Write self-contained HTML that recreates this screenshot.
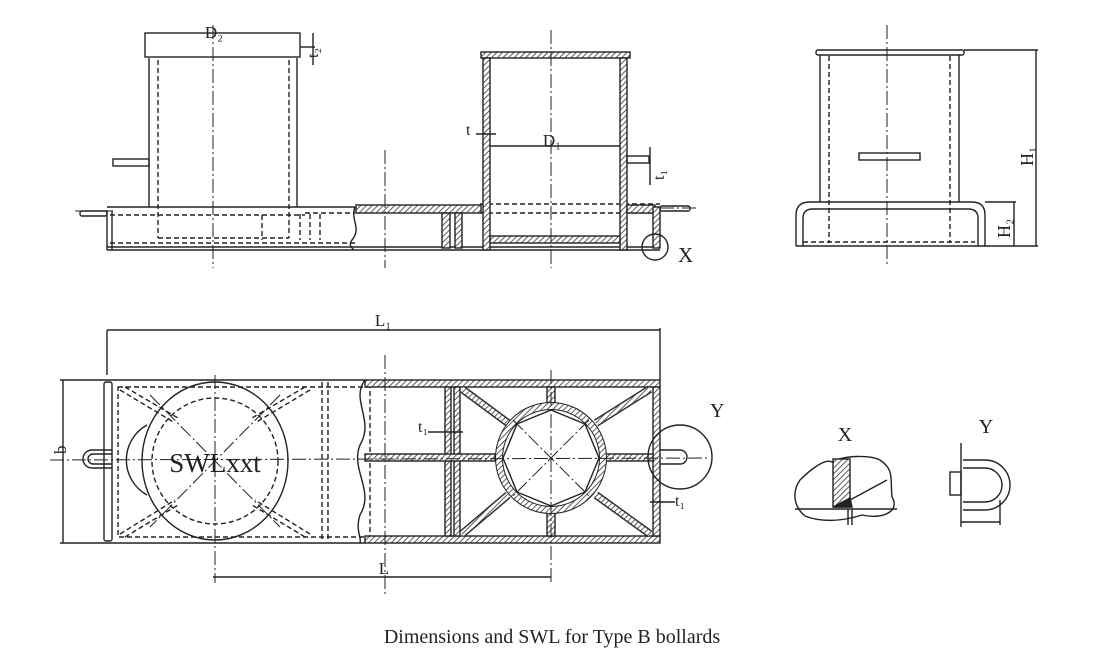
<!DOCTYPE html>
<html><head><meta charset="utf-8"><style>
html,body{margin:0;padding:0;background:#fff;}
svg{display:block;}
text{font-family:"Liberation Serif",serif;fill:#222;}
</style></head><body>
<svg width="1105" height="667" viewBox="0 0 1105 667" xmlns="http://www.w3.org/2000/svg">
<defs>
<pattern id="h" width="4" height="4" patternUnits="userSpaceOnUse" patternTransform="rotate(45)">
<rect width="4" height="4" fill="#fff"/><line x1="0" y1="0" x2="0" y2="4" stroke="#333" stroke-width="1.6"/>
</pattern>
</defs>
<g fill="none" stroke="#222" stroke-width="1.4">
<!-- TOP LEFT ELEVATION -->
<rect x="145" y="33" width="155" height="24"/>
<line x1="149" y1="58" x2="149" y2="207"/><line x1="297" y1="58" x2="297" y2="207"/>
<g stroke-dasharray="5,3">
<line x1="158" y1="60" x2="158" y2="238"/><line x1="289" y1="60" x2="289" y2="238"/>
<line x1="158" y1="238" x2="289" y2="238"/>
<line x1="110" y1="215" x2="305" y2="215"/><line x1="305" y1="213" x2="355" y2="213"/>
<line x1="110" y1="243" x2="355" y2="243"/>
<line x1="262" y1="215" x2="262" y2="240"/><line x1="300" y1="214" x2="300" y2="240"/>
<line x1="310" y1="214" x2="310" y2="240"/><line x1="320" y1="214" x2="320" y2="240"/>
<line x1="480" y1="204" x2="660" y2="204"/><line x1="480" y1="213" x2="660" y2="213"/>
</g>
<rect x="113" y="159" width="36" height="7"/>
<line x1="107" y1="207" x2="355" y2="207"/>
<line x1="107" y1="250" x2="660" y2="250"/><line x1="107" y1="247" x2="660" y2="247"/>
<line x1="107" y1="210" x2="107" y2="250"/><line x1="112" y1="210" x2="112" y2="250"/>
<path d="M355 207 C350 220,362 228,352 240 C348 245,352 248,354 250"/>
<rect x="356" y="205" width="125" height="8" fill="url(#h)"/>
<rect x="442" y="213" width="8" height="35" fill="url(#h)"/>
<rect x="455" y="213" width="7" height="35" fill="url(#h)"/>
<rect x="481" y="52" width="149" height="6" fill="url(#h)"/>
<rect x="483" y="58" width="7" height="192" fill="url(#h)"/>
<rect x="620" y="58" width="7" height="192" fill="url(#h)"/>
<rect x="490" y="236" width="130" height="7" fill="url(#h)"/>
<rect x="627" y="205" width="28" height="8" fill="url(#h)"/>
<rect x="653" y="207" width="7" height="41" fill="url(#h)"/>
<rect x="80" y="211" width="27" height="5" rx="2"/>
<rect x="660" y="206" width="30" height="5" rx="2"/>
<rect x="627" y="156" width="22" height="7"/>
<line x1="490" y1="146" x2="620" y2="146"/>
<circle cx="655" cy="247" r="13"/>
<g stroke-dasharray="14,3,2,3" stroke-width="1">
<line x1="213" y1="25" x2="213" y2="268"/>
<line x1="385" y1="150" x2="385" y2="268"/>
<line x1="551" y1="30" x2="551" y2="268"/>
<line x1="887" y1="25" x2="887" y2="265"/>
<line x1="75" y1="211" x2="112" y2="211"/>
<line x1="660" y1="208" x2="697" y2="208"/>
</g>
<line x1="300" y1="47" x2="315" y2="47"/><line x1="313" y1="33" x2="313" y2="65"/>
<line x1="476" y1="134" x2="496" y2="134"/>
<line x1="650" y1="147" x2="650" y2="185"/>
<!-- RIGHT ELEVATION -->
<rect x="816" y="50" width="148" height="5" rx="2"/>
<line x1="820" y1="55" x2="820" y2="202"/><line x1="959" y1="55" x2="959" y2="202"/>
<g stroke-dasharray="5,3"><line x1="829" y1="56" x2="829" y2="243"/><line x1="950" y1="56" x2="950" y2="243"/><line x1="803" y1="242" x2="975" y2="242"/></g>
<rect x="859" y="153" width="61" height="7"/>
<path d="M796 246 V215 Q796 202 810 202 H972 Q985 202 985 215 V246"/>
<path d="M803 246 V218 Q803 209 813 209 H968 Q978 209 978 218 V246"/>
<line x1="796" y1="246" x2="1038" y2="246"/>
<line x1="964" y1="50" x2="1038" y2="50"/>
<line x1="1036" y1="50" x2="1036" y2="246"/>
<line x1="985" y1="202" x2="1016" y2="202"/>
<line x1="1014" y1="202" x2="1014" y2="246"/>
<!-- PLAN VIEW -->
<line x1="107" y1="330" x2="660" y2="330"/>
<line x1="107" y1="330" x2="107" y2="375"/><line x1="660" y1="328" x2="660" y2="380"/>
<line x1="63" y1="380" x2="63" y2="543"/>
<line x1="60" y1="380" x2="107" y2="380"/><line x1="60" y1="543" x2="107" y2="543"/>
<line x1="107" y1="380" x2="365" y2="380"/><line x1="107" y1="543" x2="365" y2="543"/>
<rect x="104" y="382" width="8" height="159" rx="2"/>
<path d="M365 380 C350 400,375 420,360 445 C350 470,375 490,360 515 C355 530,362 538,360 543"/>
<g stroke-dasharray="5,3">
<rect x="118" y="387" width="252" height="150"/>
<line x1="322" y1="382" x2="322" y2="541"/><line x1="328" y1="382" x2="328" y2="541"/>
<circle cx="215" cy="461" r="63"/>
<line x1="120" y1="390" x2="175" y2="423"/><line x1="125" y1="387" x2="178" y2="418"/>
<line x1="310" y1="390" x2="255" y2="423"/><line x1="305" y1="387" x2="252" y2="418"/>
<line x1="120" y1="534" x2="175" y2="500"/><line x1="125" y1="537" x2="178" y2="505"/>
<line x1="310" y1="534" x2="255" y2="500"/><line x1="305" y1="537" x2="252" y2="505"/>
</g>
<ellipse cx="215" cy="461" rx="73" ry="79"/>
<path d="M147 425 A40 40 0 0 0 147 495"/>
<path d="M112 450 H92 A9 9 0 0 0 92 468 H112"/>
<path d="M112 454 H93 A5 5 0 0 0 93 464 H112"/>
<rect x="365" y="380" width="295" height="7" fill="url(#h)"/>
<rect x="365" y="536" width="295" height="7" fill="url(#h)"/>
<rect x="653" y="387" width="7" height="149" fill="url(#h)"/>
<rect x="445" y="387" width="6" height="149" fill="url(#h)"/>
<rect x="454" y="387" width="6" height="149" fill="url(#h)"/>
<rect x="365" y="454" width="130" height="7" fill="url(#h)"/>
<rect x="605" y="454" width="48" height="7" fill="url(#h)"/>
<rect x="547" y="387" width="8" height="20" fill="url(#h)"/>
<rect x="547" y="510" width="8" height="26" fill="url(#h)"/>
<g stroke-width="8" stroke="#333"><line x1="462" y1="389" x2="508" y2="423"/><line x1="650" y1="389" x2="596" y2="423"/><line x1="462" y1="534" x2="508" y2="495"/><line x1="650" y1="534" x2="596" y2="495"/></g>
<g stroke-width="5" stroke="url(#h)"><line x1="462" y1="389" x2="508" y2="423"/><line x1="650" y1="389" x2="596" y2="423"/><line x1="462" y1="534" x2="508" y2="495"/><line x1="650" y1="534" x2="596" y2="495"/></g>
<circle cx="551" cy="458" r="52" stroke="#222" stroke-width="8"/>
<circle cx="551" cy="458" r="52" stroke="url(#h)" stroke-width="6"/>
<polygon points="551,410 585,424 599,458 585,492 551,506 517,492 503,458 517,424"/>
<g stroke-dasharray="14,3,2,3" stroke-width="1">
<line x1="215" y1="375" x2="215" y2="583"/>
<line x1="385" y1="355" x2="385" y2="595"/>
<line x1="551" y1="370" x2="551" y2="583"/>
<line x1="50" y1="460" x2="710" y2="458"/>
<line x1="150" y1="395" x2="280" y2="527"/><line x1="280" y1="395" x2="150" y2="527"/>
<line x1="513" y1="420" x2="589" y2="496"/><line x1="589" y1="420" x2="513" y2="496"/>
</g>
<circle cx="680" cy="457" r="32"/>
<path d="M660 450 H680 A7 7 0 0 1 680 464 H660"/>
<line x1="213" y1="577" x2="551" y2="577"/>
<line x1="428" y1="432" x2="463" y2="432"/>
<line x1="650" y1="502" x2="675" y2="502"/>
<!-- DETAIL X -->
<path d="M800 480 C810 470,825 458,832 462 C845 455,870 455,880 460 C895 470,890 480,892 497 C900 510,885 520,862 515 C840 522,820 522,805 516 C792 505,793 490,800 480Z"/>
<rect x="833" y="459" width="17" height="48" fill="url(#h)"/>
<path d="M833 507 L850 498 L852 507Z" fill="#222"/>
<line x1="795" y1="509" x2="897" y2="509"/>
<line x1="850" y1="500" x2="887" y2="480"/>
<line x1="848" y1="509" x2="848" y2="525"/><line x1="852" y1="509" x2="852" y2="525"/>
<!-- DETAIL Y -->
<line x1="961" y1="443" x2="961" y2="527"/>
<path d="M963 460 H985 A25 25 0 0 1 985 510 H963"/>
<path d="M963 468 H985 A17 17 0 0 1 985 502 H963"/>
<rect x="950" y="472" width="11" height="23"/>
<line x1="961" y1="522" x2="1000" y2="522"/>
<line x1="1000" y1="500" x2="1000" y2="525"/>
</g>
<text x="214" y="38" font-size="17" text-anchor="middle">D₂</text>
<text x="310" y="50" font-size="16" transform="rotate(-90 318 50)">t₂</text>
<text x="466" y="135" font-size="16">t</text>
<text x="552" y="146" font-size="17" text-anchor="middle">D₁</text>
<text x="648" y="180" font-size="16" transform="rotate(-90 656 172)">t₁</text>
<text x="678" y="262" font-size="21">X</text>
<text x="1016" y="155" font-size="18" transform="rotate(-90 1030 152)">H₁</text>
<text x="998" y="230" font-size="18" transform="rotate(-90 1008 228)">H₂</text>
<text x="383" y="326" font-size="17" text-anchor="middle">L₁</text>
<text x="68" y="468" font-size="17" transform="rotate(-90 60 462)">b</text>
<text x="215" y="472" font-size="27" text-anchor="middle">SWLxxt</text>
<text x="418" y="432" font-size="16">t₁</text>
<text x="675" y="506" font-size="16">t₁</text>
<text x="710" y="417" font-size="20">Y</text>
<text x="384" y="574" font-size="17" text-anchor="middle">L</text>
<text x="845" y="441" font-size="20" text-anchor="middle">X</text>
<text x="986" y="433" font-size="20" text-anchor="middle">Y</text>
<text x="552" y="643" font-size="20" text-anchor="middle">Dimensions and SWL for Type B bollards</text>
</svg>
</body></html>
